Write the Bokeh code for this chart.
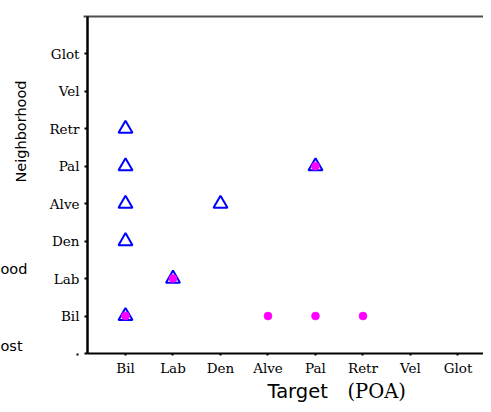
from bokeh.plotting import figure
from bokeh.models import Range1d, FixedTicker, LinearAxis, Label
from bokeh.embed import file_html
from bokeh.resources import INLINE

# categories (same order on both axes)
categories = ["Bil", "Lab", "Den", "Alve", "Pal", "Retr", "Vel", "Glot"]

# triangle series (target, neighborhood)
tri_target = ["Bil", "Bil", "Bil", "Bil", "Bil", "Lab", "Den", "Pal"]
tri_neigh = ["Retr", "Pal", "Alve", "Den", "Bil", "Lab", "Alve", "Pal"]

# dot series (target, neighborhood)
dot_target = ["Bil", "Lab", "Pal", "Alve", "Pal", "Retr"]
dot_neigh = ["Bil", "Lab", "Pal", "Bil", "Bil", "Bil"]

idx = {c: i + 1 for i, c in enumerate(categories)}

W, H = 483, 404
X0, X1 = -1.6316, 8.537
Y0, Y1 = -1.362, 9.427
p = figure(width=W, height=H, output_backend="svg", toolbar_location=None,
           x_range=Range1d(X0, X1), y_range=Range1d(Y0, Y1),
           min_border=0, x_axis_location=None, y_axis_location=None)
p.outline_line_color = None
p.xgrid.visible = False
p.ygrid.visible = False
p.background_fill_color = "white"
p.border_fill_color = "white"

ticks = list(range(0, 9))
overrides = {0: ""}
for c, i in idx.items():
    overrides[i] = c

XL, XR = 0.2, X1      # left axis location / right end of the x extent
tick_font = "DejaVu Serif"

yax = LinearAxis(ticker=FixedTicker(ticks=ticks), major_label_overrides=overrides,
                 fixed_location=XL, bounds=(0, 9))
yax.axis_line_color = "black"
yax.axis_line_width = 2.5
yax.major_tick_in = 0
yax.major_tick_out = 3
yax.major_tick_line_width = 2
yax.major_tick_line_color = "black"
yax.minor_tick_line_color = None
yax.major_label_standoff = 5
yax.major_label_text_font = tick_font
yax.major_label_text_font_size = "13.5px"
yax.major_label_text_color = "black"
p.add_layout(yax, "left")

xax = LinearAxis(ticker=FixedTicker(ticks=ticks), major_label_overrides=overrides,
                 fixed_location=0, bounds=(XL, XR))
xax.axis_line_color = "black"
xax.axis_line_width = 2
xax.major_tick_in = 0
xax.major_tick_out = 2
xax.major_tick_line_width = 2
xax.major_tick_line_color = "black"
xax.minor_tick_line_color = None
xax.major_label_standoff = 5
xax.major_label_text_font = tick_font
xax.major_label_text_font_size = "13.5px"
xax.major_label_text_color = "black"
p.add_layout(xax, "below")

top = LinearAxis(ticker=FixedTicker(ticks=[]), fixed_location=9,
                 bounds=(XL - 0.08, XR))
top.axis_line_color = "#505050"
top.axis_line_width = 2
top.major_tick_line_color = None
top.minor_tick_line_color = None
top.major_label_text_font_size = "0px"
p.add_layout(top, "above")

p.scatter([idx[t] for t in tri_target], [idx[n] for n in tri_neigh],
          marker="triangle", size=14, fill_color=None,
          line_color="#0000ff", line_width=2)
p.scatter([idx[t] for t in dot_target], [idx[n] for n in dot_neigh],
          marker="circle", size=8, fill_color="#ff00ff",
          line_color="#ff00ff", line_width=0.5)

sans = "DejaVu Sans"
p.add_layout(Label(x=-1.2, y=5.929, text="Neighborhood", angle=1.5708,
                   text_font=sans, text_font_size="14.5px", text_align="center",
                   text_baseline="middle", text_color="black"))
p.add_layout(Label(x=X0, y=2.244, text="ood", text_font=sans,
                   text_font_size="14.5px", text_align="left",
                   text_baseline="alphabetic", text_color="black"))
p.add_layout(Label(x=X0, y=0.187, text="ost", text_font=sans,
                   text_font_size="14.5px", text_align="left",
                   text_baseline="alphabetic", text_color="black"))
p.add_layout(Label(x=3.989, y=-1.309, text="Target", text_font=sans,
                   text_font_size="19.5px", text_align="left",
                   text_baseline="bottom", text_color="black"))
p.add_layout(Label(x=5.674, y=-1.309, text="(POA)", text_font="DejaVu Serif",
                   text_font_size="19.5px", text_align="left",
                   text_baseline="bottom", text_color="black"))

open("out.html", "w").write(file_html(p, INLINE))
